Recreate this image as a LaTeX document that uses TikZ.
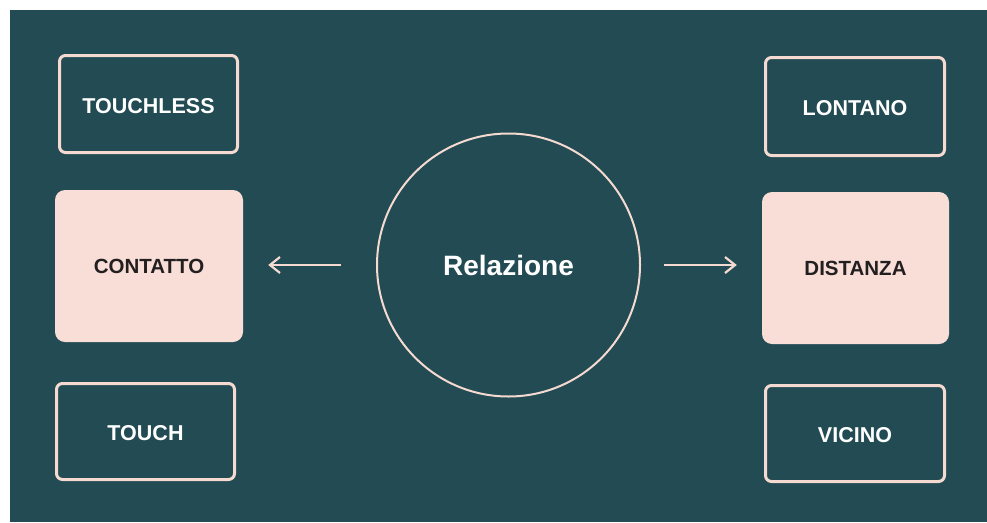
\documentclass[tikz,border=0pt]{standalone}
\usepackage{fontspec}
\setmainfont{Liberation Sans}
\usetikzlibrary{arrows.meta}
\definecolor{bgteal}{HTML}{224B53}
\definecolor{pinkfill}{HTML}{F8DED6}
\definecolor{pinkline}{HTML}{F4DAD1}
\definecolor{darktext}{HTML}{231F20}
\tikzset{
  outbox/.style={draw=pinkline, line width=3pt, rounded corners=6pt, fill=none,
    text=white, font=\bfseries\fontsize{21.5}{24}\selectfont, inner sep=0pt,
    text height=18.5pt, text depth=0pt},
  fillbox/.style={draw=none, fill=pinkfill, rounded corners=10pt,
    text=darktext, font=\bfseries\fontsize{20.5}{24}\selectfont, inner sep=0pt},
  centre/.style={circle, draw=pinkline, line width=2pt, inner sep=0pt,
    minimum size=263pt, text=white, font=\bfseries\fontsize{28}{32}\selectfont},
  arr/.style={draw=pinkline, line width=2.2pt, -{Straight Barb[length=10pt,width=16pt,line width=2.2pt]}}
}
\begin{document}
\begin{tikzpicture}[x=1pt,y=-1pt]
\useasboundingbox (0,0) rectangle (987,522);
\fill[white] (0,0) rectangle (987,522);
\fill[bgteal] (10,10) rectangle (987,522);

\node[outbox, minimum width=178pt, minimum height=97pt] (touchless) at (148.5,104) {TOUCHLESS};
\node[fillbox, minimum width=188pt, minimum height=152pt] (contatto) at (149,266) {CONTATTO};
\node[outbox, minimum width=178pt, minimum height=96pt] (touch) at (145.5,431.5) {TOUCH};

\node[outbox, minimum width=179pt, minimum height=98pt] (lontano) at (855,106.5) {LONTANO};
\node[fillbox, minimum width=187pt, minimum height=152pt] (distanza) at (855.5,268) {DISTANZA};
\node[outbox, minimum width=179pt, minimum height=96pt] (vicino) at (855,433.5) {VICINO};

\node[centre] (rel) at (508.5,265) {Relazione};

\draw[arr, shorten <=35.5pt, shorten >=25pt] (rel.west) -- (contatto.east |- rel.west);
\draw[arr, shorten <=22.5pt, shorten >=25pt] (rel.east) -- (distanza.west |- rel.east);
\end{tikzpicture}
\end{document}
